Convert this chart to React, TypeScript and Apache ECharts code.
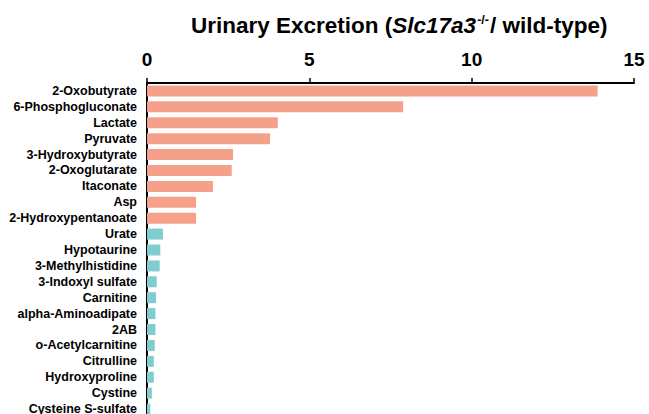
import React, { useEffect, useRef } from "react";
import * as echarts from "echarts";

const categories = [
  "2-Oxobutyrate",
  "6-Phosphogluconate",
  "Lactate",
  "Pyruvate",
  "3-Hydroxybutyrate",
  "2-Oxoglutarate",
  "Itaconate",
  "Asp",
  "2-Hydroxypentanoate",
  "Urate",
  "Hypotaurine",
  "3-Methylhistidine",
  "3-Indoxyl sulfate",
  "Carnitine",
  "alpha-Aminoadipate",
  "2AB",
  "o-Acetylcarnitine",
  "Citrulline",
  "Hydroxyproline",
  "Cystine",
  "Cysteine S-sulfate",
];

const values = [
  13.88, 7.89, 4.03, 3.79, 2.65, 2.61, 2.03, 1.51, 1.51, 0.49, 0.41, 0.39,
  0.3, 0.28, 0.26, 0.26, 0.24, 0.21, 0.21, 0.15, 0.1,
];

// group of each bar: "up" (salmon) or "down" (teal)
const groups = [
  "up", "up", "up", "up", "up", "up", "up", "up", "up",
  "down", "down", "down", "down", "down", "down", "down", "down", "down", "down", "down", "down",
];

const xTicks = { min: 0, max: 15, interval: 5 };

const colors: Record<string, string> = { up: "#F4A08B", down: "#80CCCE" };

export default function App() {
  const ref = useRef<HTMLDivElement>(null);
  useEffect(() => {
    if (!ref.current) return;
    const chart = echarts.init(ref.current, null, { renderer: "svg" });
    const font = "Arial, 'Liberation Sans', Helvetica, sans-serif";
    chart.setOption({
      animation: false,
      title: {
        text:
          "{b|Urinary Excretion (}{i|Slc17a3}{s|-/-}{b|/ wild-type)}",
        left: 186,
        top: 8,
        textStyle: {
          rich: {
            b: { fontFamily: font, fontWeight: "bold", fontSize: 22.5, color: "#000" },
            i: { fontFamily: font, fontWeight: "bold", fontStyle: "italic", fontSize: 22.5, color: "#000" },
            s: { fontFamily: font, fontWeight: "bold", fontSize: 12.5, color: "#000", padding: [0, 1, 11, 1] },
          },
        },
      },
      grid: { left: 147, right: 15, top: 83, bottom: 13, containLabel: false },
      xAxis: {
        type: "value",
        position: "top",
        min: xTicks.min,
        max: xTicks.max,
        interval: xTicks.interval,
        axisLine: { show: true, lineStyle: { color: "#000", width: 2 } },
        axisTick: { show: true, length: 5, lineStyle: { color: "#000", width: 1.5 } },
        axisLabel: {
          color: "#000",
          fontFamily: font,
          fontWeight: "bold",
          fontSize: 19,
          margin: 14,
        },
        splitLine: { show: false },
      },
      yAxis: {
        type: "category",
        inverse: true,
        data: categories,
        axisLine: { show: true, lineStyle: { color: "#000", width: 2 } },
        axisTick: { show: false },
        axisLabel: {
          color: "#000",
          fontFamily: font,
          fontWeight: "bold",
          fontSize: 12.5,
          margin: 10,
          interval: 0,
        },
      },
      series: [
        {
          type: "bar",
          barWidth: 11,
          data: values.map((v, i) => ({
            value: v,
            itemStyle: { color: colors[groups[i]] },
          })),
        },
      ],
    });
    return () => chart.dispose();
  }, []);
  return (
    <div
      style={{
        position: "fixed",
        left: 0,
        top: 0,
        width: 649,
        height: 414,
        overflow: "hidden",
        background: "#fff",
      }}
    >
      <div ref={ref} style={{ width: 649, height: 430 }} />
    </div>
  );
}
